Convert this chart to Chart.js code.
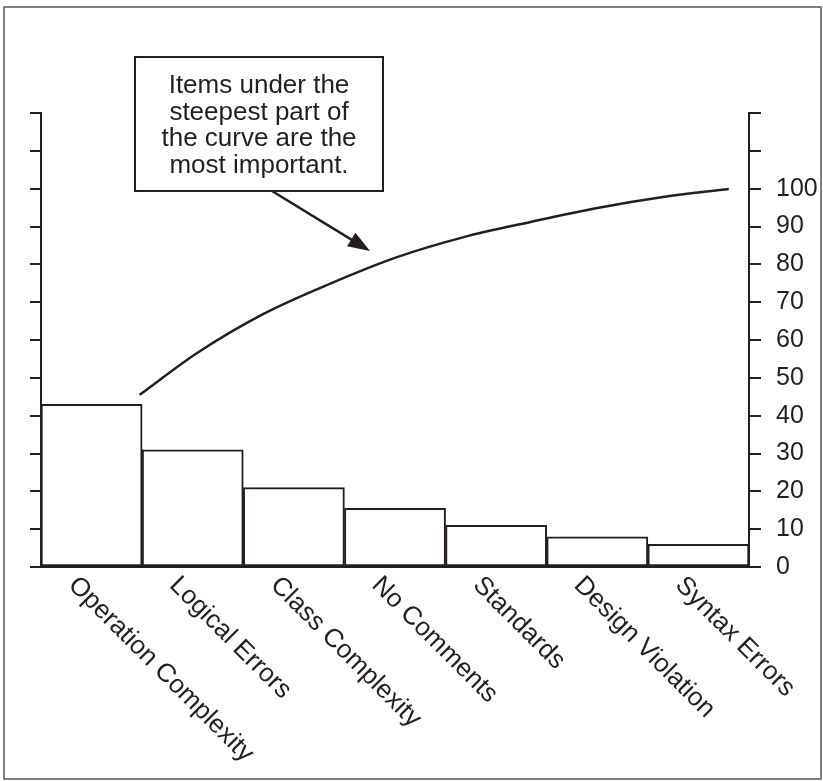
<!DOCTYPE html>
<html>
<head>
<meta charset="utf-8">
<script src="https://cdn.jsdelivr.net/npm/chart.js@4/dist/chart.umd.min.js"></script>
<style>
	html, body { margin: 0; padding: 0; background: #fff; }
	#wrap { position: relative; width: 823px; height: 781px; }
</style>
</head>
<body>
<div id="wrap"><canvas id="myChart"></canvas></div>
<script>
// bar categories and heights (percent of defects)
const categories = ['Operation Complexity', 'Logical Errors', 'Class Complexity', 'No Comments', 'Standards', 'Design Violation', 'Syntax Errors'];
const counts = [43, 31, 21, 15.5, 11, 8, 6];

// cumulative curve, x measured in bar widths from the left axis
const curveX = [0.975, 1.54, 2.2, 2.86, 3.52, 4.18, 4.84, 5.5, 6.15, 6.8];
const curveY = [45.5, 56.5, 66.9, 74.9, 81.9, 87.2, 91.2, 94.9, 97.8, 99.9];

const axisMax = 120;
const labelMax = 100;

const noteLines = ['Items under the', 'steepest part of', 'the curve are the', 'most important.'];

const ink = '#231f20';
const font = '"Liberation Sans", Arial, Helvetica, sans-serif';

const extras = {
	id: 'extras',
	afterDraw(chart) {
		const ctx = chart.ctx;
		const x = chart.scales.x;
		ctx.save();

		// outer frame
		ctx.strokeStyle = '#555';
		ctx.lineWidth = 1.5;
		ctx.strokeRect(4, 7, 817, 772);

		// rotated category labels
		ctx.fillStyle = ink;
		ctx.font = '26px ' + font;
		ctx.textAlign = 'left';
		ctx.textBaseline = 'top';
		categories.forEach((c, i) => {
			ctx.save();
			ctx.translate(x.getPixelForValue(i) - 10, 572);
			ctx.rotate(Math.PI / 4);
			ctx.fillText(c, 0, 0);
			ctx.restore();
		});

		// note box
		ctx.strokeStyle = ink;
		ctx.lineWidth = 2;
		ctx.fillStyle = '#fff';
		ctx.fillRect(135, 57, 248, 134);
		ctx.strokeRect(135, 57, 248, 134);
		ctx.fillStyle = ink;
		ctx.textAlign = 'center';
		ctx.textBaseline = 'alphabetic';
		noteLines.forEach((t, i) => ctx.fillText(t, 259, 93 + i * 26.6));

		// arrow
		const x0 = 272, y0 = 191, x1 = 370, y1 = 251;
		const a = Math.atan2(y1 - y0, x1 - x0);
		ctx.lineWidth = 2.5;
		ctx.beginPath();
		ctx.moveTo(x0, y0);
		ctx.lineTo(x1 - 16 * Math.cos(a), y1 - 16 * Math.sin(a));
		ctx.stroke();
		ctx.beginPath();
		ctx.moveTo(x1, y1);
		ctx.lineTo(x1 - 22 * Math.cos(a) + 8 * Math.sin(a), y1 - 22 * Math.sin(a) - 8 * Math.cos(a));
		ctx.lineTo(x1 - 22 * Math.cos(a) - 8 * Math.sin(a), y1 - 22 * Math.sin(a) + 8 * Math.cos(a));
		ctx.closePath();
		ctx.fill();

		ctx.restore();
	}
};

const ctx = document.getElementById('myChart');

new Chart(ctx, {
	type: 'bar',
	data: {
		labels: categories,
		datasets: [
			{
				type: 'line',
				data: curveX.map((v, i) => ({ x: v, y: curveY[i] })),
				xAxisID: 'xl',
				yAxisID: 'y',
				borderColor: ink,
				borderWidth: 2.5,
				pointRadius: 0,
				cubicInterpolationMode: 'monotone',
				fill: false,
				order: 0
			},
			{
				data: counts,
				xAxisID: 'x',
				yAxisID: 'y',
				backgroundColor: '#fff',
				borderColor: ink,
				borderWidth: 2,
				borderSkipped: false,
				grouped: false,
				categoryPercentage: 1,
				barPercentage: 1,
				order: 1
			}
		]
	},
	plugins: [extras],
	options: {
		responsive: true,
		maintainAspectRatio: false,
		animation: false,
		layout: { padding: { left: 30, top: 113, right: 0, bottom: 0 } },
		plugins: { legend: { display: false }, tooltip: { enabled: false } },
		scales: {
			x: {
				offset: true,
				ticks: { display: false },
				grid: { display: false },
				border: { display: true, color: ink, width: 2 },
				afterFit: s => { s.height = 214; }
			},
			xl: {
				type: 'linear',
				display: false,
				offset: false,
				min: 0,
				max: categories.length
			},
			y: {
				position: 'left',
				min: 0,
				max: axisMax,
				ticks: { display: false, stepSize: 10 },
				grid: { drawOnChartArea: false, drawTicks: true, tickLength: 11, color: ink, lineWidth: 2 },
				border: { display: true, color: ink, width: 2 },
				afterFit: s => { s.width = 11; }
			},
			y2: {
				position: 'right',
				min: 0,
				max: axisMax,
				ticks: {
					stepSize: 10,
					padding: 15,
					color: ink,
					font: { size: 25, family: font },
					callback: v => v <= labelMax ? v : ''
				},
				grid: { drawOnChartArea: false, drawTicks: true, tickLength: 12, color: ink, lineWidth: 2 },
				border: { display: true, color: ink, width: 2 },
				afterFit: s => { s.width = 74; }
			}
		}
	}
});
</script>
</body>
</html>
